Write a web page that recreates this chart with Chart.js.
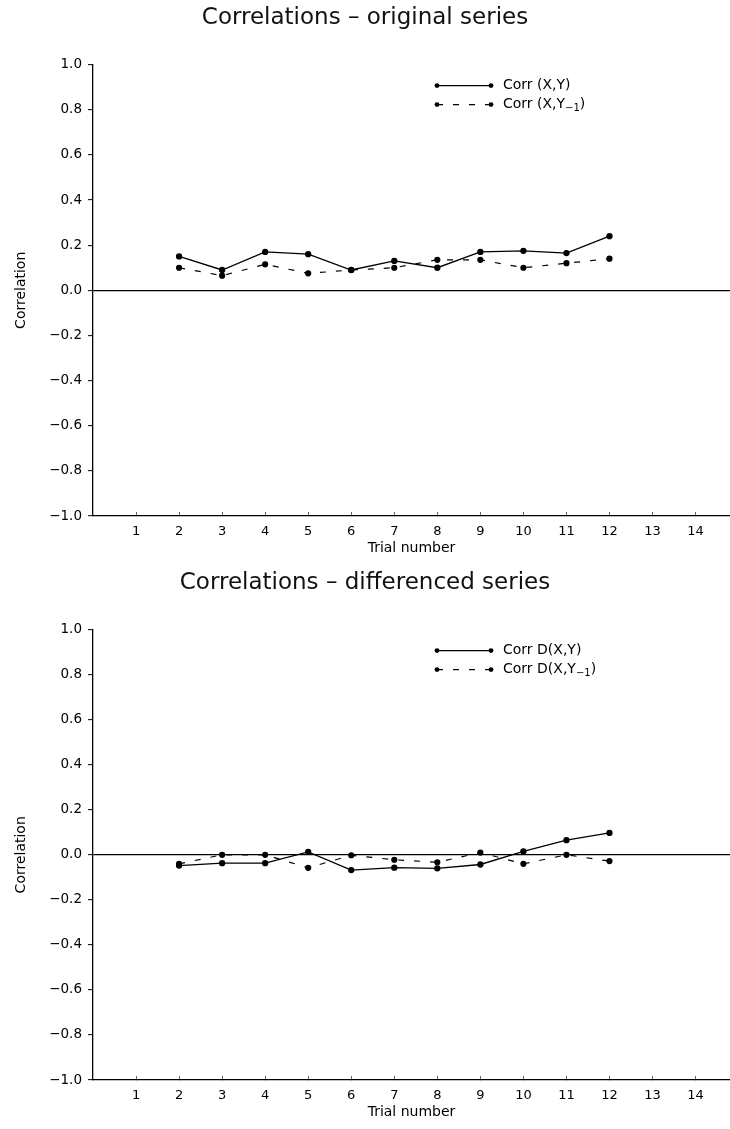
<!DOCTYPE html>
<html>
<head>
<meta charset="utf-8">
<script src="https://cdn.jsdelivr.net/npm/chart.js@4.4.1/dist/chart.umd.min.js"></script>
<style>
  html, body { margin: 0; padding: 0; background: #fff; overflow: hidden; }
  .panel { position: relative; width: 730px; }
</style>
</head>
<body>
<div class="panel" style="height:565px"><canvas id="origChart"></canvas></div>
<div class="panel" style="height:564px"><canvas id="diffChart"></canvas></div>
<script>
// Trial numbers and per-trial correlations
const trials = [2, 3, 4, 5, 6, 7, 8, 9, 10, 11, 12];

const origCorr    = [0.15, 0.09, 0.17, 0.16, 0.09, 0.13, 0.10, 0.17, 0.175, 0.165, 0.24];
const origLagCorr = [0.10, 0.065, 0.115, 0.075, 0.09, 0.10, 0.135, 0.135, 0.10, 0.12, 0.14];

const diffCorr    = [-0.048, -0.037, -0.037, 0.013, -0.068, -0.057, -0.06, -0.043, 0.015, 0.065, 0.097];
const diffLagCorr = [-0.04, 0.0, 0.0, -0.058, -0.002, -0.022, -0.033, 0.01, -0.04, 0.0, -0.028];

const xTickValues = [1, 2, 3, 4, 5, 6, 7, 8, 9, 10, 11, 12, 13, 14];
const yTickValues = [-1.0, -0.8, -0.6, -0.4, -0.2, 0.0, 0.2, 0.4, 0.6, 0.8, 1.0];

const FONT = '"DejaVu Sans", sans-serif';
const DASH = [6, 10];

function toPoints(values) {
    return trials.map((t, i) => ({ x: t, y: values[i] }));
}

function fmtY(v) {
    const r = Math.round(v * 10) / 10;
    if (Math.abs(r) < 1e-9) return '0.0';
    return (r < 0 ? '\u2212' : '') + Math.abs(r).toFixed(1);
}

// Legend drawn inside the plot, top right: dot-line-dot sample + label
const insetLegend = {
    id: 'insetLegend',
    afterDatasetsDraw(chart, args, opts) {
        const ctx = chart.ctx;
        const { left, top } = chart.chartArea;
        const x0 = left + 344, x1 = left + 398, tx = left + 410;
        opts.items.forEach((item, i) => {
            const y = top + 21 + i * 19;
            ctx.save();
            ctx.strokeStyle = '#000';
            ctx.fillStyle = '#000';
            ctx.lineWidth = 1.2;
            ctx.setLineDash(item.dash);
            ctx.beginPath();
            ctx.moveTo(x0, y);
            ctx.lineTo(x1, y);
            ctx.stroke();
            ctx.setLineDash([]);
            [x0, x1].forEach(px => {
                ctx.beginPath();
                ctx.arc(px, y, 2.4, 0, Math.PI * 2);
                ctx.fill();
            });
            ctx.textBaseline = 'middle';
            ctx.font = '14px ' + FONT;
            ctx.fillText(item.text, tx, y);
            if (item.sub) {
                let x = tx + ctx.measureText(item.text).width;
                ctx.font = '10px ' + FONT;
                ctx.fillText(item.sub, x, y + 4);
                x += ctx.measureText(item.sub).width;
                ctx.font = '14px ' + FONT;
                ctx.fillText(item.tail, x, y);
            }
            ctx.restore();
        });
    }
};

function makeChart(id, title, legendItems, solid, dashed) {
    return new Chart(document.getElementById(id), {
        type: 'line',
        data: {
            datasets: [{
                data: toPoints(solid),
                borderColor: '#000',
                backgroundColor: '#000',
                borderWidth: 1.3,
                pointRadius: 2.5,
                tension: 0
            }, {
                data: toPoints(dashed),
                borderColor: '#000',
                backgroundColor: '#000',
                borderWidth: 1.2,
                borderDash: DASH,
                pointRadius: 2.5,
                tension: 0
            }]
        },
        options: {
            responsive: true,
            maintainAspectRatio: false,
            animation: false,
            layout: { padding: 0, autoPadding: false },
            plugins: {
                legend: { display: false },
                tooltip: { enabled: false },
                title: {
                    display: true,
                    text: title,
                    color: '#111',
                    font: { family: FONT, size: 23, weight: 'normal' },
                    padding: { top: 4, bottom: 33 }
                },
                insetLegend: { items: legendItems }
            },
            scales: {
                x: {
                    type: 'linear',
                    min: 0,
                    max: 14.8,
                    afterFit(scale) {
                        scale.height = 49;
                        // the axis runs to the right edge of the canvas
                        scale.paddingLeft = 0;
                        scale.paddingRight = 0;
                    },
                    afterBuildTicks(scale) { scale.ticks = xTickValues.map(v => ({ value: v })); },
                    border: { display: true, color: '#000', width: 1.3 },
                    grid: { drawOnChartArea: false, tickLength: -4, tickColor: '#666', tickWidth: 1 },
                    ticks: {
                        color: '#000',
                        padding: 12,
                        maxRotation: 0,
                        autoSkip: false,
                        font: { family: FONT, size: 13 },
                        callback: v => String(v)
                    },
                    title: {
                        display: true,
                        text: 'Trial number',
                        color: '#000',
                        font: { family: FONT, size: 14 },
                        padding: { top: 0, bottom: 8 }
                    }
                },
                y: {
                    min: -1,
                    max: 1,
                    afterFit(scale) { scale.width = 93; },
                    afterBuildTicks(scale) { scale.ticks = yTickValues.map(v => ({ value: v })); },
                    border: { display: true, color: '#000', width: 1.3 },
                    grid: {
                        drawOnChartArea: true,
                        tickLength: 5,
                        color: ctx => (ctx.tick && Math.abs(ctx.tick.value) < 1e-9) ? '#000' : 'rgba(0,0,0,0)',
                        lineWidth: 1.3,
                        tickColor: '#000',
                        tickWidth: 1
                    },
                    ticks: {
                        color: '#000',
                        padding: 6,
                        font: { family: FONT, size: 13.5 },
                        callback: v => fmtY(v)
                    },
                    title: {
                        display: true,
                        text: 'Correlation',
                        color: '#000',
                        font: { family: FONT, size: 14 },
                        padding: { top: 13, bottom: 0 }
                    }
                }
            }
        },
        plugins: [insetLegend]
    });
}

makeChart('origChart', 'Correlations \u2013 original series', [
    { text: 'Corr (X,Y)', dash: [] },
    { text: 'Corr (X,Y', sub: '\u22121', tail: ')', dash: DASH }
], origCorr, origLagCorr);

makeChart('diffChart', 'Correlations \u2013 differenced series', [
    { text: 'Corr D(X,Y)', dash: [] },
    { text: 'Corr D(X,Y', sub: '\u22121', tail: ')', dash: DASH }
], diffCorr, diffLagCorr);
</script>
</body>
</html>
